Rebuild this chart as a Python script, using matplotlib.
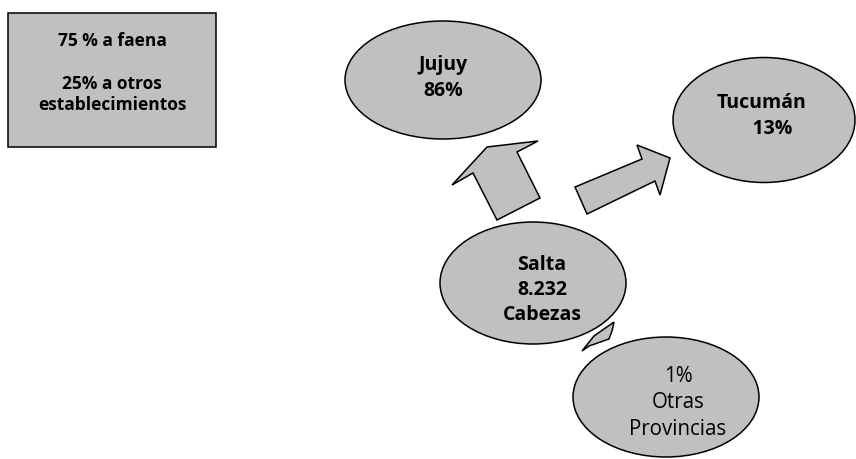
import matplotlib.pyplot as plt
from matplotlib.patches import Ellipse, Polygon, Rectangle

# data: destinations of cattle leaving Salta
origen = ["Salta", "8.232", "Cabezas"]
destinos = ["Jujuy", "Tucumán", "Otras Provincias"]
porcentajes = ["86%", "13%", "1%"]
nota = ["75 % a faena", "", "25% a otros", "establecimientos"]

gris = "#c0c0c0"
fuente = "Open Sans"

fig = plt.figure(figsize=(8.56, 4.59), dpi=100)
ax = fig.add_axes([0, 0, 1, 1])
ax.set_xlim(0, 856)
ax.set_ylim(459, 0)
ax.axis("off")

# arrows (layout in pixel coords)
flecha_jujuy = [(452, 185), (487, 147), (538, 141), (517, 152),
                (540, 198), (497, 220), (473, 173)]
flecha_tucuman = [(575, 187), (642, 159), (637, 145), (670, 158),
                  (660, 195), (655, 181), (587, 214)]
flecha_otras = [(582, 351), (594, 336), (614, 322), (612, 331),
                (609, 339), (589, 346)]
for pts in (flecha_jujuy, flecha_tucuman, flecha_otras):
    ax.add_patch(Polygon(pts, closed=True, fc=gris, ec="black", lw=1.1, zorder=1))

# ellipses: (cx, cy, w, h)
elipses = {
    "jujuy": (443, 80, 196, 118),
    "tucuman": (764, 120, 182, 125),
    "salta": (533, 283, 186, 122),
    "otras": (666, 397, 186, 120),
}
for cx, cy, w, h in elipses.values():
    ax.add_patch(Ellipse((cx, cy), w, h, fc=gris, ec="black", lw=1.1, zorder=2))

# note box
ax.add_patch(Rectangle((8, 13), 208, 134, fc=gris, ec="black", lw=1.1, zorder=2))
ax.text(112, 73, "\n".join(nota), ha="center", va="center", fontsize=12.5,
        fontweight="bold", family=fuente, linespacing=1.25, zorder=3)

txt = dict(ha="center", va="center", fontsize=14, family=fuente,
           linespacing=1.35, zorder=3)
ax.text(443, 78, destinos[0] + "\n" + porcentajes[0], fontweight="bold", **txt)
ax.text(762, 116, destinos[1] + "\n    " + porcentajes[1], fontweight="bold", **txt)
ax.text(542, 290, "\n".join(origen), fontweight="bold", **txt)
ax.text(678, 403, porcentajes[2] + "\n" + destinos[2].replace(" ", "\n"),
        ha="center", va="center", fontsize=14.8, family=fuente,
        linespacing=1.32, zorder=3)

fig.savefig("out.png", dpi=100)
